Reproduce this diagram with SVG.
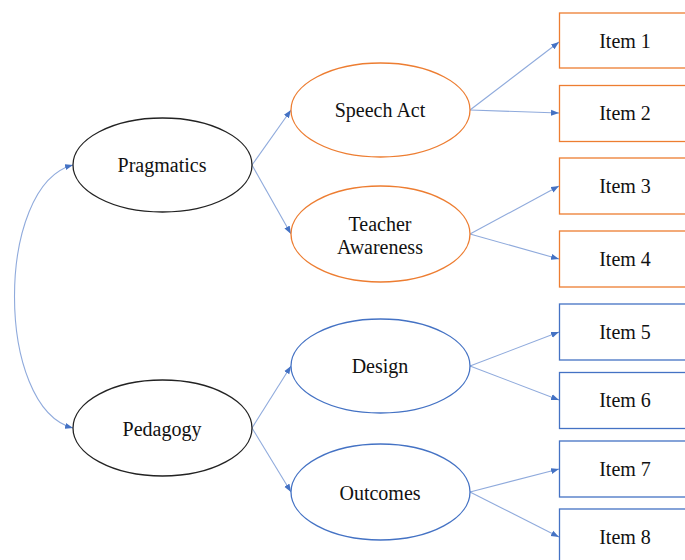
<svg xmlns="http://www.w3.org/2000/svg" width="685" height="560" viewBox="0 0 685 560">
<style>
text{font-family:"Liberation Serif","DejaVu Serif",serif;font-size:20px;fill:#111;text-anchor:middle}
.blk{fill:#fff;stroke:#222;stroke-width:1.3}
.org{fill:#fff;stroke:#ED7D31;stroke-width:1.3}
.blu{fill:#fff;stroke:#4472C4;stroke-width:1.3}
.con{fill:none;stroke:#8FAADC;stroke-width:1.1;marker-end:url(#ah)}
</style>
<defs>
<marker id="ah" markerUnits="userSpaceOnUse" markerWidth="9" markerHeight="7" refX="8" refY="3.5" orient="auto-start-reverse">
<path d="M0,0.5 L8,3.5 L0,6.5 z" fill="#4472C4"/>
</marker>
</defs>
<rect width="685" height="560" fill="#fff"/>
<g id="connectors">
<path class="con" d="M73,165 C-5,185 -5,408 73,428" style="marker-start:url(#ah)"/>
<path class="con" d="M252,165 L291,110"/>
<path class="con" d="M252,165 L291,234"/>
<path class="con" d="M252,428 L291,366"/>
<path class="con" d="M252,428 L291,492"/>
<path class="con" d="M470,110 L559,42"/>
<path class="con" d="M470,110 L559,113"/>
<path class="con" d="M470,234 L559,186"/>
<path class="con" d="M470,234 L559,259"/>
<path class="con" d="M470,366 L559,332"/>
<path class="con" d="M470,366 L559,400"/>
<path class="con" d="M470,492 L559,469"/>
<path class="con" d="M470,492 L559,537"/>
</g>
<g id="pragmatics"><ellipse class="blk" cx="162.5" cy="165" rx="89.5" ry="47"/><text x="162" y="172">Pragmatics</text></g>
<g id="pedagogy"><ellipse class="blk" cx="162.5" cy="428" rx="89.5" ry="48"/><text x="162" y="436">Pedagogy</text></g>
<g id="speech-act"><ellipse class="org" cx="380.5" cy="110" rx="89.5" ry="47"/><text x="380" y="117">Speech Act</text></g>
<g id="teacher-awareness"><ellipse class="org" cx="380.5" cy="234" rx="89.5" ry="48"/><text x="380" y="231">Teacher</text><text x="380" y="254">Awareness</text></g>
<g id="design"><ellipse class="blu" cx="380.5" cy="366" rx="89.5" ry="47"/><text x="380" y="373">Design</text></g>
<g id="outcomes"><ellipse class="blu" cx="380.5" cy="492" rx="89.5" ry="48"/><text x="380" y="500">Outcomes</text></g>
<g id="item1"><rect class="org" x="559.5" y="13" width="140" height="55"/><text x="625" y="48">Item 1</text></g>
<g id="item2"><rect class="org" x="559.5" y="85.5" width="140" height="56"/><text x="625" y="120">Item 2</text></g>
<g id="item3"><rect class="org" x="559.5" y="158" width="140" height="56"/><text x="625" y="193">Item 3</text></g>
<g id="item4"><rect class="org" x="559.5" y="231" width="140" height="56"/><text x="625" y="266">Item 4</text></g>
<g id="item5"><rect class="blu" x="559.5" y="304" width="140" height="56"/><text x="625" y="339">Item 5</text></g>
<g id="item6"><rect class="blu" x="559.5" y="372.5" width="140" height="56"/><text x="625" y="407">Item 6</text></g>
<g id="item7"><rect class="blu" x="559.5" y="441" width="140" height="56"/><text x="625" y="476">Item 7</text></g>
<g id="item8"><rect class="blu" x="559.5" y="509" width="140" height="60"/><text x="625" y="544">Item 8</text></g>
</svg>
